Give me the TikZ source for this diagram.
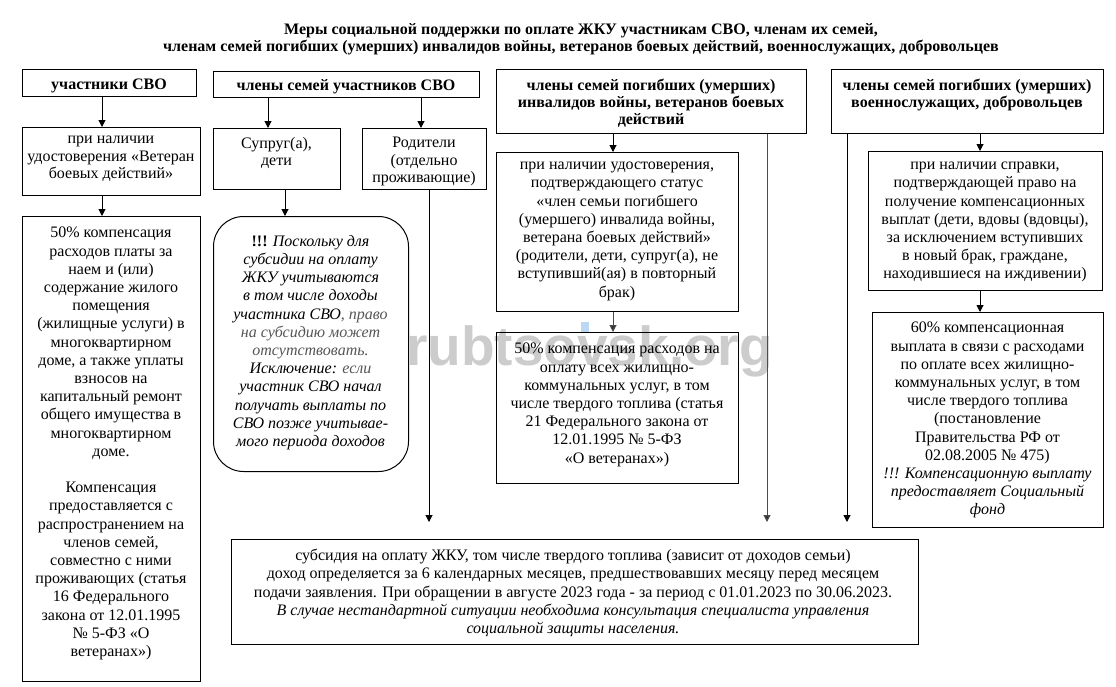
\documentclass[tikz,border=0pt]{standalone}
\usepackage{fontspec}
\setmainfont{Liberation Serif}
\newfontfamily\wmfont{Liberation Sans}
\usetikzlibrary{arrows.meta}
\definecolor{gtx}{RGB}{85,85,85}
\definecolor{wmc}{RGB}{204,204,204}
\definecolor{curc}{RGB}{186,216,242}
\begin{document}
\begin{tikzpicture}[x=1pt,y=-1pt,
  box/.style={draw, line width=1pt, inner sep=0pt, anchor=north west},
  txt/.style={anchor=north, inner sep=0pt, align=center, font=\fontsize{16}{18.2}\selectfont, execute at begin node=\strut, yshift=-4pt},
  tight/.style={font=\fontsize{16}{17.5}\selectfont},
  hdr/.style={txt, font=\fontsize{16}{16.8}\selectfont\bfseries},
  arr/.style={-{Triangle[length=7pt,width=7pt]}, line width=1pt},
  garr/.style={arr, draw=black!70, -{Triangle[length=7pt,width=7pt,fill=black!80]}}
]
\useasboundingbox (0,0) rectangle (1116,686);

% watermark
\node[anchor=base west, inner sep=0pt, text=wmc, font=\wmfont\bfseries\fontsize{55}{55}\selectfont] (wm) at (406,365) {rubtsovsk.org};
\node[fill=curc, inner sep=0pt, minimum width=8pt, minimum height=11pt, anchor=north west] (cur) at (581,322) {};

% title
\node[hdr, font=\fontsize{16}{17.3}\selectfont\bfseries] (title) at (581,19) {Меры социальной поддержки по оплате ЖКУ участникам СВО, членам их семей,\\членам семей погибших (умерших) инвалидов войны, ветеранов боевых действий, военнослужащих, добровольцев};

% boxes
\node[box, minimum width=174pt, minimum height=27pt] (A) at (22,69) {};
\node[box, minimum width=266pt, minimum height=26pt] (B) at (213,71) {};
\node[box, minimum width=310pt, minimum height=64pt] (C) at (496,69) {};
\node[box, minimum width=272pt, minimum height=64pt] (D) at (831,69) {};
\node[box, minimum width=178pt, minimum height=68pt] (A2) at (22,127) {};
\node[box, minimum width=127pt, minimum height=61pt] (B1) at (213,128) {};
\node[box, minimum width=124pt, minimum height=61pt] (B2) at (362,128) {};
\node[box, minimum width=242pt, minimum height=159pt] (C2) at (496,152) {};
\node[box, minimum width=234pt, minimum height=139pt] (D2) at (868,151) {};
\node[box, minimum width=178pt, minimum height=465pt] (A3) at (22,216) {};
\node[box, rounded corners=30pt, minimum width=195pt, minimum height=255pt] (B3) at (213,216) {};
\node[box, minimum width=242pt, minimum height=151pt] (C3) at (496,332) {};
\node[box, minimum width=231pt, minimum height=215pt] (D3) at (872,312) {};
\node[box, minimum width=687pt, minimum height=105pt] (E) at (231,539) {};

% texts
\node[hdr] (At) at (109,74) {участники СВО};
\node[hdr] (Bt) at (346,75) {члены семей участников СВО};
\node[hdr] (Ct) at (651,75) {члены семей погибших (умерших)\\инвалидов войны, ветеранов боевых\\действий};
\node[hdr] (Dt) at (967,75) {члены семей погибших (умерших)\\военнослужащих, добровольцев};
\node[txt, tight] (A2t) at (111,132) {при наличии\\удостоверения «Ветеран\\боевых действий»};
\node[txt, tight] (B1t) at (276.5,133) {Супруг(а),\\дети};
\node[txt, tight] (B2t) at (424,133) {Родители\\(отдельно\\проживающие)};
\node[txt] (A3t) at (111,223) {50\% компенсация\\расходов платы за\\наем и (или)\\содержание жилого\\помещения\\(жилищные услуги) в\\многоквартирном\\доме, а также уплаты\\взносов на\\капитальный ремонт\\общего имущества в\\многоквартирном\\доме.\\\strut\\Компенсация\\предоставляется с\\распространением на\\членов семей,\\совместно с ними\\проживающих (статья\\16 Федерального\\закона от 12.01.1995\\№ 5-ФЗ «О\\ветеранах»)};
\node[txt] (B3t) at (310.5,231) {\textbf{!!!} \textit{Поскольку для}\\\textit{субсидии на оплату}\\\textit{ЖКУ учитываются}\\\textit{в том числе доходы}\\\textit{участника СВО}\textcolor{gtx}{\textit{, право}}\\\textcolor{gtx}{\textit{на субсидию может}}\\\textcolor{gtx}{\textit{отсутствовать.}}\\\textit{Исключение:} \textcolor{gtx}{\textit{если}}\\\textit{участник СВО начал}\\\textit{получать выплаты по}\\\textit{СВО позже учитывае-}\\\textit{мого периода доходов}};
\node[txt] (C2t) at (617,158) {при наличии удостоверения,\\подтверждающего статус\\«член семьи погибшего\\(умершего) инвалида войны,\\ветерана боевых действий»\\(родители, дети, супруг(а), не\\вступивший(ая) в повторный\\брак)};
\node[txt] (C3t) at (617,339) {50\% компенсация расходов на\\оплату всех жилищно-\\коммунальных услуг, в том\\числе твердого топлива (статья\\21 Федерального закона от\\12.01.1995 № 5-ФЗ\\«О ветеранах»)};
\node[txt] (D2t) at (985,158) {при наличии справки,\\подтверждающей право на\\получение компенсационных\\выплат (дети, вдовы (вдовцы),\\за исключением вступивших\\в новый брак, граждане,\\находившиеся на иждивении)};
\node[txt] (D3t) at (987.5,318) {60\% компенсационная\\выплата в связи с расходами\\по оплате всех жилищно-\\коммунальных услуг, в том\\числе твердого топлива\\(постановление\\Правительства РФ от\\02.08.2005 № 475)\\\textit{!!! Компенсационную выплату}\\\textit{предоставляет Социальный}\\\textit{фонд}};
\node[txt] (Et) at (573,545) {субсидия на оплату ЖКУ, том числе твердого топлива (зависит от доходов семьи)\\доход определяется за 6 календарных месяцев, предшествовавших месяцу перед месяцем\\подачи заявления. При обращении в августе 2023 года - за период с 01.01.2023 по 30.06.2023.\\\textit{В случае нестандартной ситуации необходима консультация специалиста управления}\\\textit{социальной защиты населения.}};

% connector x positions
\coordinate (xA) at (102,0);
\coordinate (xB1) at (268,0);
\coordinate (xB2) at (421,0);
\coordinate (xB3) at (285,0);
\coordinate (xBE) at (429,0);
\coordinate (xC) at (613,0);
\coordinate (xCE) at (767,0);
\coordinate (xDE) at (847,0);
\coordinate (xD) at (980,0);
\coordinate (Etop) at ([yshift=17pt]E.north);

\draw[arr] (A.south -| xA) -- (A2.north -| xA);
\draw[arr] (A2.south -| xA) -- (A3.north -| xA);
\draw[arr] (B.south -| xB1) -- (B1.north -| xB1);
\draw[arr] (B.south -| xB2) -- (B2.north -| xB2);
\draw[arr] (B1.south -| xB3) -- (B3.north -| xB3);
\draw[arr] (B2.south -| xBE) -- (Etop -| xBE);
\draw[arr] (C.south -| xC) -- (C2.north -| xC);
\draw[garr] (C2.south -| xC) -- (C3.north -| xC);
\draw[garr] (C.south -| xCE) -- (Etop -| xCE);
\draw[arr] (D.south -| xDE) -- (Etop -| xDE);
\draw[arr] (D.south -| xD) -- (D2.north -| xD);
\draw[arr] (D2.south -| xD) -- (D3.north -| xD);
\end{tikzpicture}
\end{document}
